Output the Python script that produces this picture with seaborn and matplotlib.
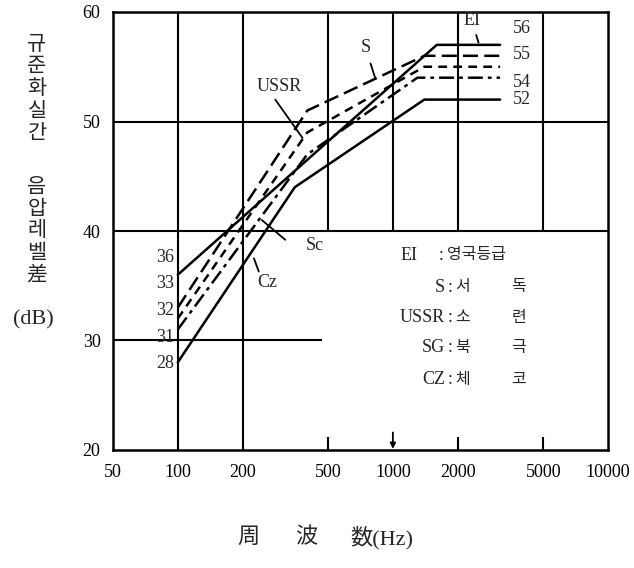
import matplotlib
matplotlib.use("Agg")
import matplotlib.pyplot as plt
import pandas as pd
import seaborn as sns

# curves (Hz, dB)
curve_names = ["EI", "S", "USSR", "SG", "CZ"]
freq_ei = [100, 1600, 3150]
level_ei = [36, 57, 57]
freq_s = [100, 400, 1400, 3150]
level_s = [33, 51, 56, 56]
freq_ussr = [100, 400, 1400, 3150]
level_ussr = [32, 49, 55, 55]
freq_sg = [100, 400, 1300, 3150]
level_sg = [31, 47, 54, 54]
freq_cz = [100, 350, 1400, 3150]
level_cz = [28, 44, 52, 52]

start_labels = ["36", "33", "32", "31", "28"]
end_labels = ["56", "55", "54", "52"]

x_ticks = [50, 100, 200, 500, 1000, 2000, 5000, 10000]
y_ticks = [20, 30, 40, 50, 60]

legend_codes = ["EI", "S", "USSR", "SG", "CZ"]
legend_names = [["영국등급"], ["서", "독"], ["소", "련"], ["북", "극"], ["체", "코"]]

W, H = 634, 568

freqs = [freq_ei, freq_s, freq_ussr, freq_sg, freq_cz]
levels = [level_ei, level_s, level_ussr, level_sg, level_cz]
rows = []
for name, fs, ls in zip(curve_names, freqs, levels):
    for f, l in zip(fs, ls):
        rows.append({"curve": name, "freq": f, "level": l})
df = pd.DataFrame(rows)

sns.set_style("white")
plt.rcParams["font.family"] = ["Liberation Serif", "Noto Sans CJK KR", "DejaVu Sans"]

fig = plt.figure(figsize=(W / 100, H / 100), dpi=100)
ax = fig.add_axes([113 / W, 1 - 450 / H, (608 - 113) / W, (450 - 12) / H])

dash_map = {"EI": "", "S": (6, 2.5), "USSR": (3.5, 2.5), "SG": (6, 2, 1.5, 2), "CZ": ""}
sns.lineplot(data=df, x="freq", y="level", style="curve", dashes=dash_map,
             color="black", lw=1.8, legend=False, sort=False, estimator=None, ax=ax)

ax.set_xscale("log")
ax.set_xlim(50, 10000)
ax.set_ylim(20, 60)
ax.set_xticks(x_ticks)
ax.set_xticklabels([str(t) for t in x_ticks])
ax.minorticks_off()
ax.set_yticks(y_ticks)
ax.tick_params(length=0, labelsize=13, colors="black")
ax.tick_params(axis="x", pad=10)
ax.tick_params(axis="y", pad=9)
ax.set_xlabel("")
ax.set_ylabel("")
for sp in ax.spines.values():
    sp.set_color("black")
    sp.set_linewidth(1.8)

# grid as drawn in the original
gk = dict(color="black", lw=1.5, zorder=1)
ax.vlines([100, 200], 20, 60, **gk)
ax.vlines([500, 1000, 2000, 5000], 40, 60, **gk)
ax.hlines([40, 50], 50, 10000, **gk)
ax.hlines(30, 50, 470, **gk)
ax.vlines([500, 2000, 5000], 20, 21.2, **gk)
ax.annotate("", xy=(1000, 20.1), xytext=(1000, 21.6),
            arrowprops=dict(arrowstyle="-|>", color="black", lw=1.3,
                            mutation_scale=8, shrinkA=0, shrinkB=0))

# curve end values
for s, y in zip(start_labels, [37.6, 35.25, 32.7, 30.3, 27.9]):
    ax.text(96, y, s, ha="right", va="center", fontsize=13)
for s, y in zip(end_labels, [58.5, 56.1, 53.6, 52.0]):
    ax.text(3600, y, s, ha="left", va="center", fontsize=13)

# curve names with leader lines
lk = dict(arrowstyle="-", color="black", lw=1.3, shrinkA=0, shrinkB=0)
ax.text(2330, 59.2, "EI", ha="center", va="center", fontsize=13)
ax.annotate("", xy=(2500, 57.2), xytext=(2440, 57.9), arrowprops=lk)
ax.text(745, 56.8, "S", ha="center", va="center", fontsize=13)
ax.annotate("", xy=(830, 53.9), xytext=(787, 55.3), arrowprops=lk)
ax.text(296, 53.2, "USSR", ha="center", va="center", fontsize=13)
ax.annotate("", xy=(380, 48.5), xytext=(284, 52.0), arrowprops=lk)
ax.text(393, 38.7, "Sc", ha="left", va="center", fontsize=13)
ax.annotate("", xy=(246, 41.0), xytext=(316, 39.2), arrowprops=lk)
ax.text(260, 35.3, "Cz", ha="center", va="center", fontsize=13)
ax.annotate("", xy=(226, 37.5), xytext=(238, 36.3), arrowprops=lk)

# legend block
rows_y = [255, 287, 318, 348, 380]
for code, names, py in zip(legend_codes, legend_names, rows_y):
    fy = 1 - py / H
    if code == "EI":
        fig.text(418 / W, fy, code, ha="right", va="center", fontsize=13)
        fig.text(441 / W, fy, ":", ha="center", va="center", fontsize=13)
        fig.text(447 / W, fy, names[0], ha="left", va="center", fontsize=11.5)
    else:
        fig.text(445 / W, fy, code, ha="right", va="center", fontsize=13)
        fig.text(450 / W, fy, ":", ha="center", va="center", fontsize=13)
        fig.text(463 / W, fy, names[0], ha="center", va="center", fontsize=11.5)
        fig.text(519 / W, fy, names[1], ha="center", va="center", fontsize=11.5)

# vertical y-axis title
for i, ch in enumerate("규준화실간"):
    fig.text(37 / W, 1 - (45 + i * 22.5) / H, ch, ha="center", va="center", fontsize=15)
for i, ch in enumerate("음압레벨差"):
    fig.text(37 / W, 1 - (188 + i * 22) / H, ch, ha="center", va="center", fontsize=15)
fig.text(33 / W, 1 - 320 / H, "(dB)", ha="center", va="center", fontsize=16)

# x-axis title
fig.text(248 / W, 1 - 538 / H, "周", ha="center", va="center", fontsize=16)
fig.text(306 / W, 1 - 538 / H, "波", ha="center", va="center", fontsize=16)
fig.text(350 / W, 1 - 538 / H, "数(Hz)", ha="left", va="center", fontsize=16)

fig.savefig("out.png", dpi=100)
